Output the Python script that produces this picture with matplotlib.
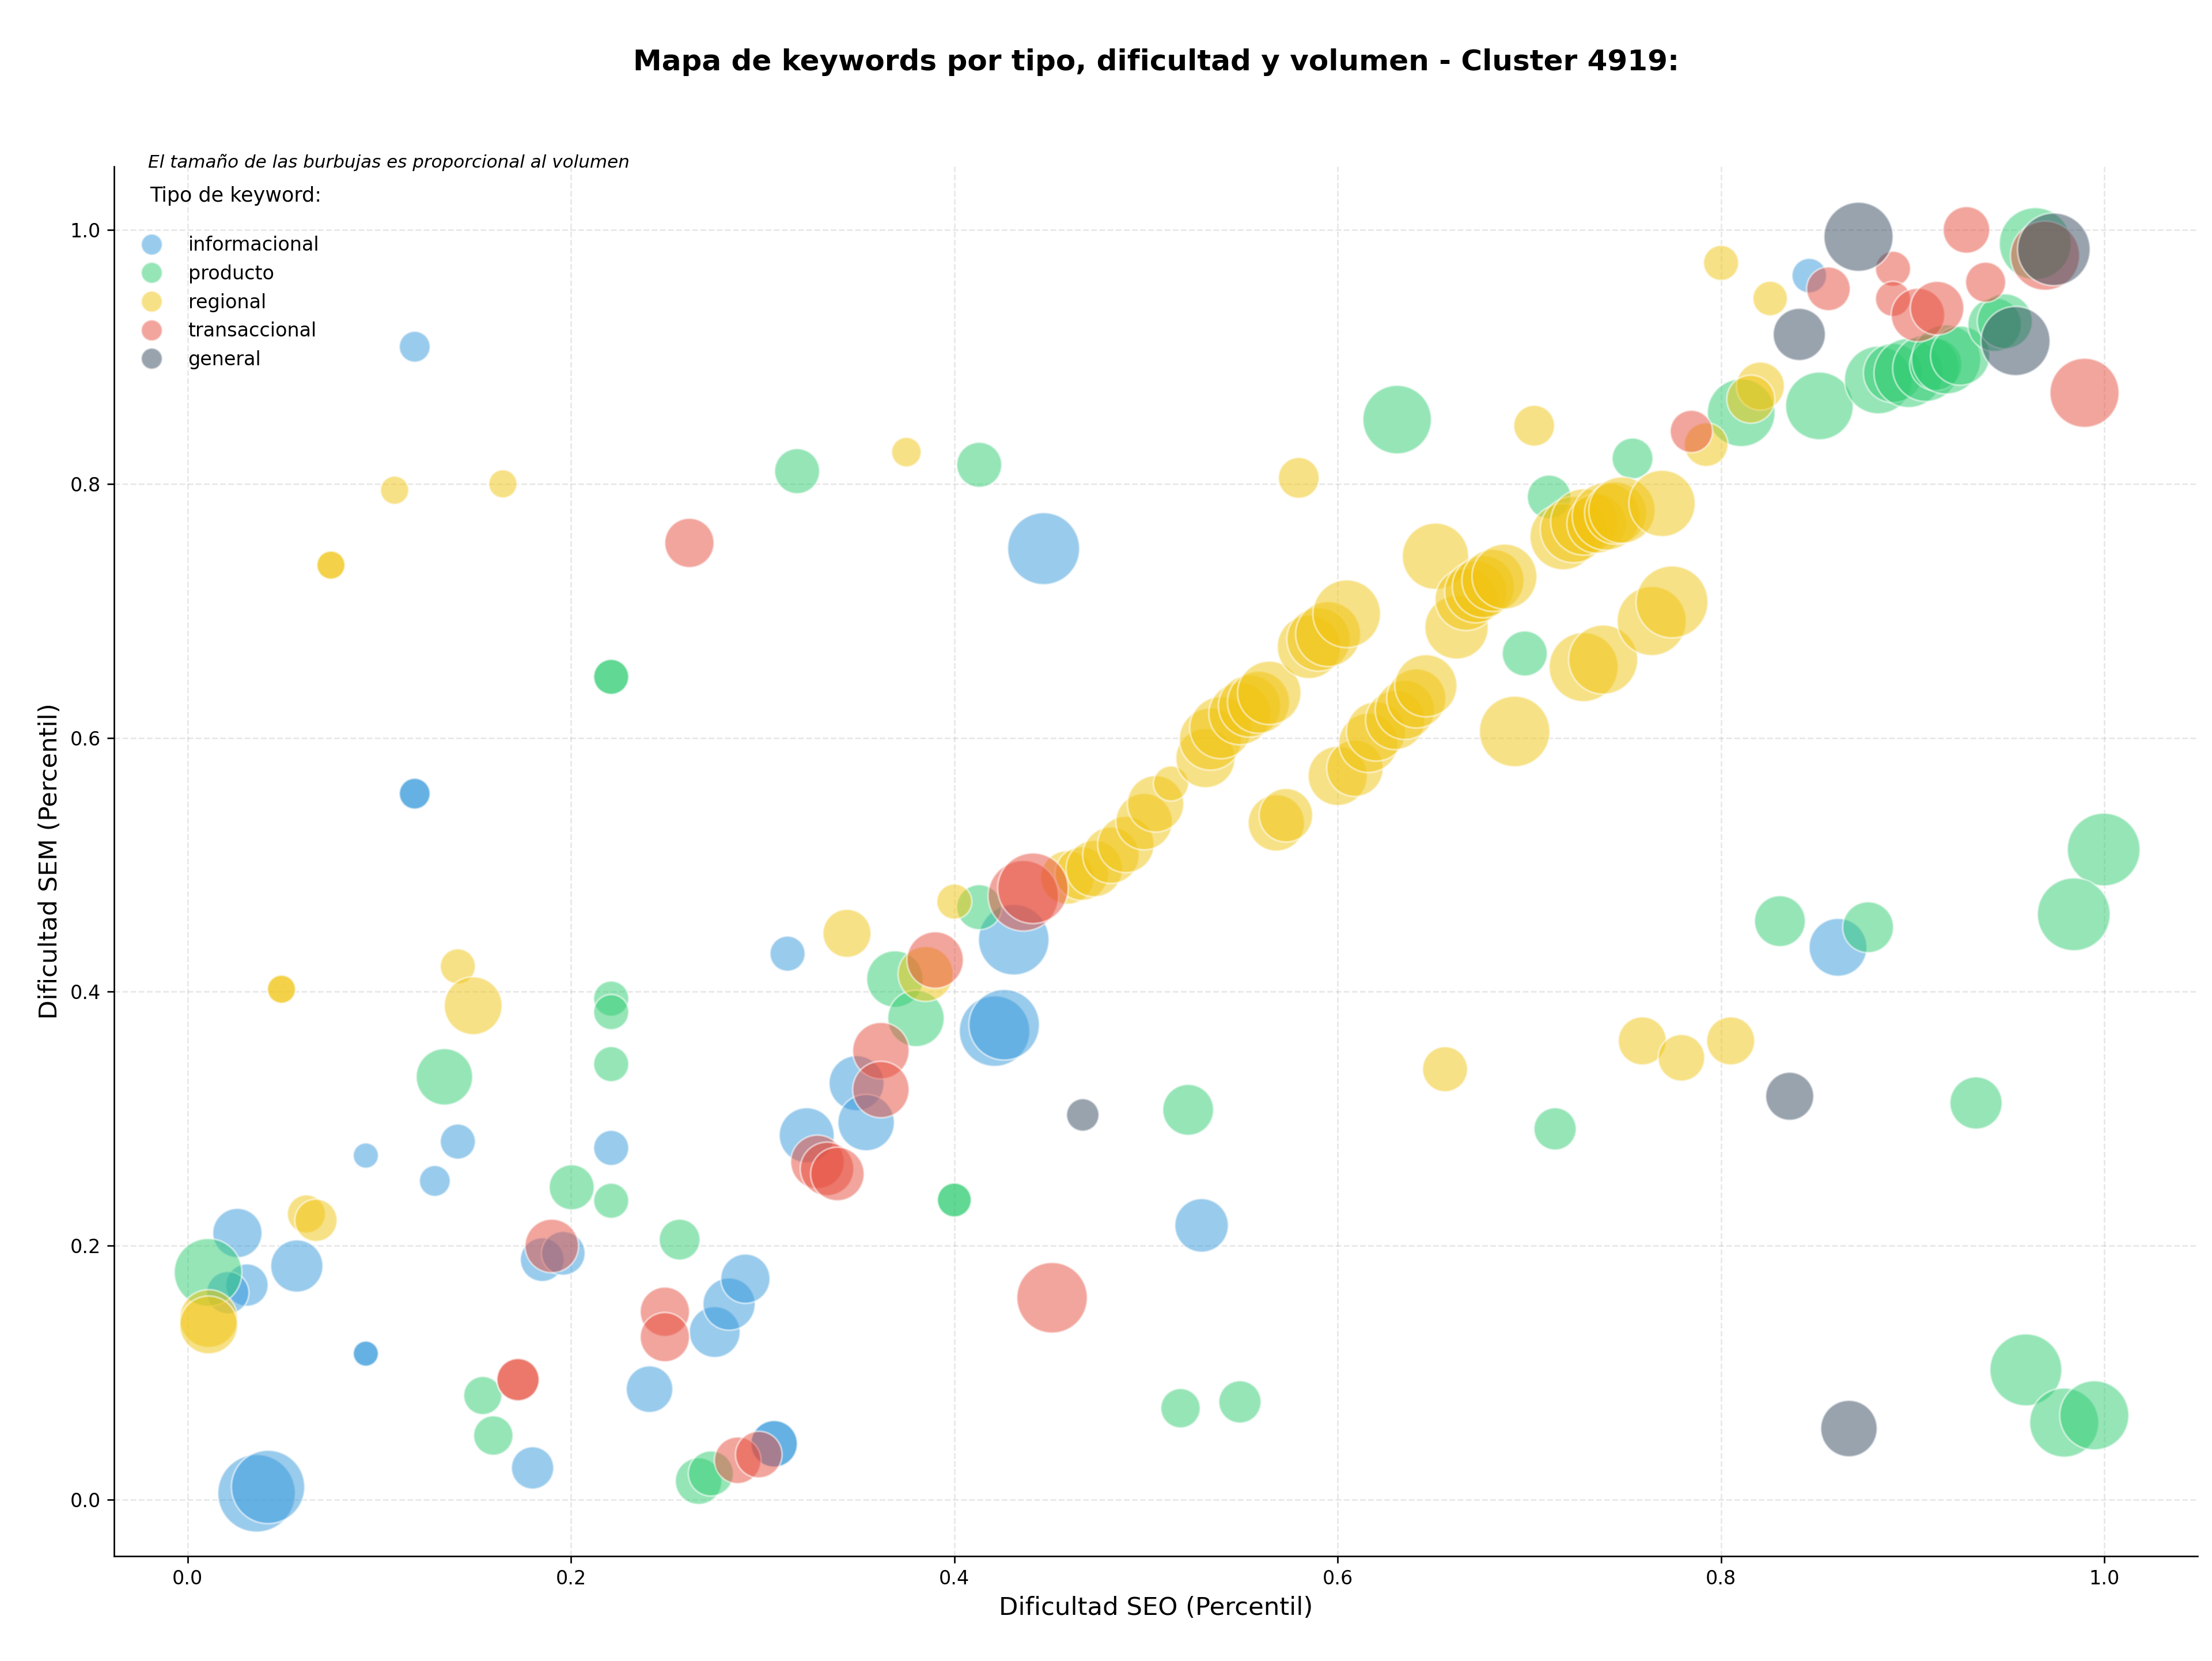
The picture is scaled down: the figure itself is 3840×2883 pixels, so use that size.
import matplotlib
matplotlib.use("Agg")
import matplotlib.pyplot as plt
from matplotlib.lines import Line2D

# informacional
info_x = [0.1185, 0.1185, 0.1185, 0.4466, 0.093, 0.129, 0.141, 0.221, 0.026, 0.057, 0.031, 0.021,
          0.185, 0.196, 0.093, 0.093, 0.180, 0.241, 0.275, 0.2825, 0.291, 0.036, 0.042, 0.306, 0.306,
          0.313, 0.323, 0.349, 0.354, 0.421, 0.426, 0.431, 0.529, 0.846, 0.861]
info_y = [0.908, 0.556, 0.556, 0.749, 0.271, 0.251, 0.282, 0.277, 0.210, 0.184, 0.169, 0.163,
          0.189, 0.194, 0.115, 0.115, 0.025, 0.087, 0.132, 0.154, 0.174, 0.005, 0.010, 0.044, 0.044,
          0.430, 0.287, 0.328, 0.297, 0.369, 0.374, 0.441, 0.216, 0.964, 0.435]
info_vol = [480, 480, 480, 2600, 320, 480, 620, 620, 1220, 1370, 900, 900,
            960, 960, 320, 320, 900, 1090, 1300, 1370, 1220, 3020, 2700, 1090, 1090,
            620, 1520, 1520, 1600, 2500, 2500, 2500, 1440, 600, 1680]

# producto
prod_x = [0.318, 0.413, 0.221, 0.221, 0.134, 0.221, 0.221, 0.221, 0.2004, 0.221, 0.2567, 0.0107,
          0.154, 0.1595, 0.2666, 0.273, 0.400, 0.400, 0.369, 0.380, 0.413, 0.522, 0.518, 0.549,
          0.631, 0.7103, 0.7538, 0.6976, 0.7134, 0.8105, 0.8513, 0.882, 0.8897, 0.8978, 0.9068,
          0.912, 0.9174, 0.9247, 0.9427, 0.948, 0.9639, 0.9996, 0.984, 0.8307, 0.8767, 0.933,
          0.959, 0.979, 0.9947]
prod_y = [0.810, 0.815, 0.648, 0.648, 0.333, 0.3946, 0.384, 0.343, 0.246, 0.2354, 0.2048, 0.179,
          0.082, 0.0505, 0.0146, 0.0206, 0.236, 0.236, 0.410, 0.379, 0.4666, 0.307, 0.072, 0.077,
          0.8506, 0.7897, 0.820, 0.6664, 0.292, 0.856, 0.8614, 0.8818, 0.8873, 0.8873, 0.891,
          0.894, 0.898, 0.901, 0.9254, 0.928, 0.9892, 0.512, 0.461, 0.4556, 0.4508, 0.3124,
          0.1022, 0.0607, 0.0664]
prod_vol = [1020, 1020, 620, 620, 1600, 620, 620, 620, 1020, 620, 840, 2300,
            730, 780, 1090, 1020, 580, 580, 1600, 1600, 1020, 1300, 780, 900,
            2360, 960, 840, 1020, 900, 2300, 2300, 2300, 1760, 2400, 2210,
            1370, 2400, 1760, 1440, 1520, 2600, 2660, 2660, 1300, 1300, 1370,
            2600, 2400, 2400]

# regional
reg_x = [0.108, 0.1645, 0.0748, 0.0748, 0.049, 0.049, 0.141, 0.149, 0.062, 0.067, 0.011, 0.011,
         0.375, 0.344, 0.385, 0.400, 0.459, 0.4665, 0.473, 0.4817, 0.4895, 0.499, 0.505, 0.513,
         0.531, 0.5336, 0.539, 0.549, 0.554, 0.5587, 0.5643, 0.568, 0.573, 0.5797, 0.585, 0.590,
         0.595, 0.6047, 0.600, 0.609, 0.616, 0.620, 0.630, 0.635, 0.641, 0.646, 0.651, 0.656,
         0.662, 0.667, 0.672, 0.676, 0.681, 0.687, 0.6923, 0.7025, 0.7176, 0.723, 0.7284, 0.735,
         0.740, 0.745, 0.7483, 0.7692, 0.7283, 0.7385, 0.7638, 0.7744, 0.7589, 0.7793, 0.805,
         0.7922, 0.800, 0.8256, 0.8205, 0.8155]
reg_y = [0.795, 0.800, 0.736, 0.736, 0.402, 0.402, 0.420, 0.389, 0.225, 0.220, 0.1426, 0.1376,
         0.825, 0.446, 0.414, 0.471, 0.490, 0.493, 0.497, 0.5075, 0.516, 0.534, 0.548, 0.564,
         0.584, 0.599, 0.608, 0.619, 0.625, 0.628, 0.6354, 0.533, 0.539, 0.8047, 0.6716, 0.6775,
         0.6817, 0.6977, 0.570, 0.576, 0.596, 0.605, 0.614, 0.622, 0.631, 0.641, 0.743, 0.339,
         0.687, 0.709, 0.715, 0.719, 0.724, 0.727, 0.605, 0.8458, 0.7584, 0.764, 0.770, 0.7687,
         0.7744, 0.777, 0.7793, 0.7846, 0.6557, 0.6616, 0.692, 0.707, 0.3613, 0.348, 0.3613,
         0.8309, 0.974, 0.946, 0.877, 0.8667]
reg_vol = [400, 400, 400, 400, 400, 400, 620, 1680, 730, 900, 1680, 1680,
           440, 1160, 1520, 620, 1440, 1440, 1600, 1600, 1600, 1600, 1600, 620,
           1760, 1940, 1940, 1940, 1940, 1940, 2020, 1600, 1440, 840, 2020, 2020,
           2120, 2300, 1760, 1600, 1760, 1760, 1760, 1760, 1760, 1940, 2210, 1020,
           2020, 1940, 1940, 1940, 1940, 2120, 2500, 840, 2210, 2210, 2210, 1760,
           2300, 1940, 2210, 2210, 2400, 2400, 2400, 2600, 1160, 1090, 1160,
           960, 620, 600, 1160, 1160]

# transaccional
trans_x = [0.2618, 0.190, 0.1724, 0.1724, 0.249, 0.249, 0.287, 0.298, 0.3286, 0.3336, 0.339,
           0.3617, 0.3617, 0.390, 0.436, 0.441, 0.451, 0.7845, 0.856, 0.8897, 0.8897, 0.9027,
           0.9127, 0.928, 0.938, 0.969, 0.9896]
trans_y = [0.7535, 0.1998, 0.0945, 0.0945, 0.148, 0.128, 0.031, 0.0355, 0.266, 0.2605, 0.2565,
           0.3536, 0.323, 0.425, 0.4756, 0.4815, 0.159, 0.8413, 0.9536, 0.9694, 0.9457, 0.933,
           0.9384, 1.0, 0.9588, 0.9797, 0.8717]
trans_vol = [1220, 1440, 900, 900, 1220, 1220, 1090, 1090, 1440, 1440, 1440,
             1600, 1600, 1600, 2500, 2500, 2500, 900, 960, 620, 620, 1440,
             1440, 1090, 810, 2400, 2400]

# general
gen_x = [0.8717, 0.8408, 0.9536, 0.9736, 0.467, 0.8358, 0.8667]
gen_y = [0.9946, 0.9177, 0.9125, 0.9847, 0.303, 0.3177, 0.056]
gen_vol = [2400, 1370, 2400, 2650, 530, 1160, 1600]

tipos = ["informacional", "producto", "regional", "transaccional", "general"]
colores = ["#3498db", "#2ecc71", "#f1c40f", "#e74c3c", "#34495e"]
series = [(info_x, info_y, info_vol), (prod_x, prod_y, prod_vol), (reg_x, reg_y, reg_vol),
          (trans_x, trans_y, trans_vol), (gen_x, gen_y, gen_vol)]

SIZE_SCALE = 0.54

fig, ax = plt.subplots(figsize=(16, 12.0125), dpi=240)
fig.subplots_adjust(left=0.0516, right=0.9935, top=0.8998, bottom=0.0632)

for (x, y, vol), tipo, color in zip(series, tipos, colores):
    ax.scatter(x, y, s=[v * SIZE_SCALE for v in vol], c=color, alpha=0.5,
               edgecolors="white", linewidths=1, label=tipo)

ax.set_xlim(-0.0383, 1.0486)
ax.set_ylim(-0.0444, 1.05)
ax.set_xticks([0.0, 0.2, 0.4, 0.6, 0.8, 1.0])
ax.set_yticks([0.0, 0.2, 0.4, 0.6, 0.8, 1.0])
ax.grid(True, linestyle="--", alpha=0.3)
ax.set_axisbelow(True)
ax.spines["top"].set_visible(False)
ax.spines["right"].set_visible(False)

ax.set_xlabel("Dificultad SEO (Percentil)", fontsize=13)
ax.set_ylabel("Dificultad SEM (Percentil)", fontsize=13)
ax.set_title("Mapa de keywords por tipo, dificultad y volumen - Cluster 4919:",
             fontsize=15, fontweight="bold", pad=50)

ax.text(0.0163, 1.003, "El tamaño de las burbujas es proporcional al volumen",
        transform=ax.transAxes, fontsize=9.3, style="italic", va="center", ha="left")
ax.text(0.0171, 0.9787, "Tipo de keyword:", transform=ax.transAxes,
        fontsize=10.5, va="center", ha="left")

handles = [Line2D([], [], marker="o", linestyle="", markersize=11, color=c, alpha=0.5,
                  markeredgecolor="white") for c in colores]
ax.legend(handles, tipos, loc="upper left", bbox_to_anchor=(0.0086, 0.950),
          frameon=False, fontsize=10, handlelength=2.0, handletextpad=0.92,
          labelspacing=0.5, borderpad=0, borderaxespad=0)

fig.savefig("out.png", dpi=240)
